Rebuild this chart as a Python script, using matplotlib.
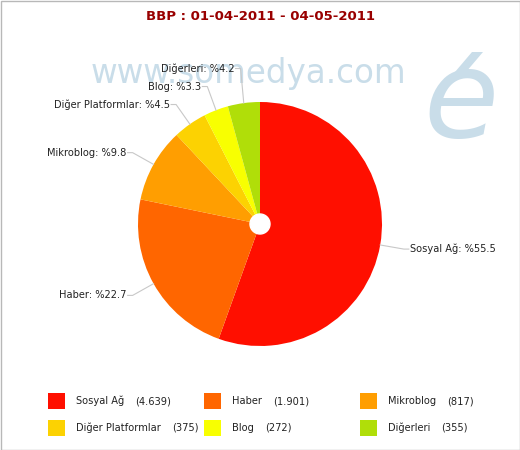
import matplotlib
matplotlib.use("Agg")
import matplotlib.pyplot as plt
from matplotlib.patches import Rectangle, Circle, Polygon
import numpy as np

# veriler
categories = ["Sosyal Ağ", "Haber", "Mikroblog", "Diğer Platformlar", "Blog", "Diğerleri"]
values = [4639, 1901, 817, 375, 272, 355]
colors = ["#FF0F00", "#FF6600", "#FF9E01", "#FCD202", "#F8FF01", "#B0DE09"]
title = "BBP : 01-04-2011 - 04-05-2011"

plt.rcParams["font.family"] = ["DejaVu Sans"]
FS = 7.1
TXT = "#222222"
WM = "#c9dde9"

W, H = 520, 450
fig = plt.figure(figsize=(W / 100, H / 100), dpi=100)
ax = fig.add_axes([0, 0, 1, 1])

# koordinatlar piksel gibi: y aşağı doğru artar
cx, cy, R = 260, 224, 122
wedges, _ = ax.pie(values, colors=colors, startangle=-90, counterclock=True,
                   center=(cx, cy), radius=R, wedgeprops=dict(linewidth=0))
ax.set_xlim(0, W)
ax.set_ylim(H, 0)
ax.set_aspect("equal")
ax.axis("off")

# merkezdeki beyaz delik
ax.add_patch(Circle((cx, cy), 10, color="white", zorder=5))

# filigran
ax.text(248, 73, "www.somedya.com", fontsize=23.5, color=WM,
        ha="center", va="center", zorder=0)
ax.text(461, 137, "e", fontsize=88, color=WM, style="oblique",
        ha="center", va="baseline", zorder=0)
ax.add_patch(Polygon([(455, 72), (466, 72), (483, 52), (472, 52)],
                     closed=True, color=WM, lw=0, zorder=0))

# etiketler (çizgili)
total = float(sum(values))
labels = []
for w, name, v in zip(wedges, categories, values):
    th = np.deg2rad((w.theta1 + w.theta2) / 2)
    ex, ey = cx + R * np.cos(th), cy + R * np.sin(th)
    lx, ly = cx + (R + 24) * np.cos(th), cy + (R + 24) * np.sin(th)
    side = 1 if np.cos(th) > 0 else -1
    labels.append(dict(ex=ex, ey=ey, lx=lx, ly=ly, side=side,
                       txt=f"{name}: %{v / total * 100:.1f}"))

# üst üste binmeyi önle
for s in (-1, 1):
    grp = sorted([l for l in labels if l["side"] == s], key=lambda l: -l["ly"])
    for a, b in zip(grp, grp[1:]):
        if b["ly"] > a["ly"] - 18:
            b["ly"] = a["ly"] - 18

for l in labels:
    s = l["side"]
    ax.plot([l["ex"], l["lx"], l["lx"] + s * 5], [l["ey"], l["ly"], l["ly"]],
            color="#c8c8c8", lw=0.8, zorder=3)
    ax.text(l["lx"] + s * 6, l["ly"], l["txt"], ha="left" if s > 0 else "right",
            va="center", fontsize=FS, color=TXT, zorder=4)

# başlık
ax.text(W / 2, 17, title, ha="center", va="center", fontsize=9.5,
        fontweight="bold", color="#990000")

# lejant
fig.canvas.draw()
rend = fig.canvas.get_renderer()
col_x = [48, 204, 360]
row_y = [401, 428]
for i, (name, v, c) in enumerate(zip(categories, values, colors)):
    x0 = col_x[i % 3]
    y0 = row_y[i // 3]
    ax.add_patch(Rectangle((x0, y0 - 8), 17, 16, color=c, lw=0))
    t = ax.text(x0 + 28, y0, name, ha="left", va="center", fontsize=FS, color=TXT)
    bb = t.get_window_extent(rend)
    x_end = bb.x1 - fig.bbox.x0
    ax.text(x_end + 11, y0, f"({v:,})".replace(",", "."), ha="left", va="center",
            fontsize=FS, color=TXT)

# çerçeve
ax.add_patch(Rectangle((0.5, 0.5), W - 1, H - 1, fill=False, edgecolor="#b8b8b8", lw=1))

fig.savefig("out.png", dpi=100)
